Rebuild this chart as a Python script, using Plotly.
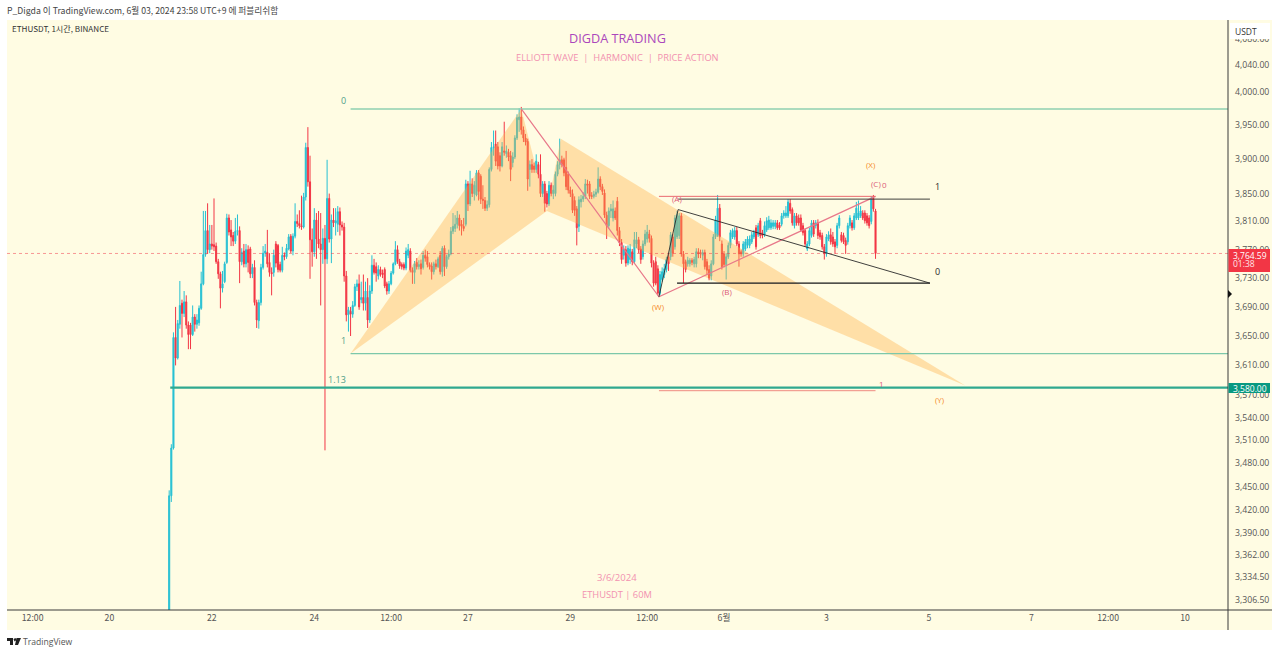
import math
import pandas as pd
import plotly.graph_objects as go

first_bar = "2024-05-21 04:00"
opens = [
3250,3438,3500,3648,3620,3666,3695,3681,3697,3665,
3665,3652,3676,3666,3668,3688,3722,3763,3797,3770,
3778,3777,3775,3753,3736,3716,3725,3752,3815,3798,
3790,3782,3796,3797,3753,3768,3750,3770,3771,3736,
3745,3696,3671,3696,3745,3765,3766,3752,3738,3738,
3778,3776,3749,3741,3762,3760,3771,3789,3768,3789,
3810,3807,3804,3802,3845,3917,3867,3784,3767,3812,
3785,3778,3770,3786,3757,3843,3785,3812,3808,3806,
3824,3805,3802,3733,3679,3684,3680,3692,3718,3722,
3700,3703,3695,3703,3672,3712,3748,3746,3733,3742,
3737,3742,3722,3712,3722,3737,3750,3770,3753,3749,
3749,3744,3762,3768,3741,3738,3752,3746,3750,3745,
3762,3760,3749,3747,3739,3750,3746,3762,3739,3772,
3746,3760,3764,3796,3800,3806,3815,3806,3803,3806,
3864,3835,3864,3850,3848,3880,3875,3842,3840,3829,
3834,3885,3917,3922,3918,3905,3890,3912,3908,3910,
3905,3895,3903,3931,3958,3962,3943,3931,3926,3885,
3892,3890,3885,3892,3878,3850,3864,3850,3835,3862,
3850,3850,3878,3892,3899,3899,3888,3878,3855,3850,
3840,3828,3803,3838,3842,3846,3864,3864,3847,3846,
3849,3852,3871,3860,3851,3819,3804,3825,3815,3825,
3839,3797,3780,3762,3770,3751,3756,3767,3753,3778,
3784,3771,3760,3778,3785,3792,3786,3751,3753,3743,
3709,3728,3735,3742,3760,3760,3788,3774,3788,3790,
3818,3764,3753,3750,3750,3755,3750,3750,3767,3766,
3762,3766,3753,3742,3733,3750,3788,3790,3829,3778,
3764,3749,3760,3776,3788,3788,3797,3778,3767,3764,
3771,3776,3776,3781,3788,3801,3791,3811,3794,3791,
3798,3801,3801,3803,3803,3808,3805,3806,3818,3818,
3818,3836,3827,3804,3818,3815,3815,3804,3797,3771,
3778,3790,3808,3804,3808,3794,3790,3774,3764,3785,
3791,3788,3781,3776,3804,3791,3790,3783,3781,3804,
3808,3801,3815,3815,3818,3822,3822,3818,3815,3810,
3843,3825]
highs = [
3445,3505,3655,3690,3672,3726,3700,3712,3706,3670,
3668,3692,3680,3680,3692,3739,3825,3825,3836,3805,
3805,3843,3780,3757,3739,3740,3753,3821,3820,3812,
3795,3815,3820,3803,3772,3778,3778,3776,3774,3750,
3755,3700,3700,3750,3775,3778,3798,3765,3745,3770,
3782,3778,3753,3774,3766,3778,3792,3792,3793,3836,
3820,3826,3847,3851,3924,3947,3905,3800,3829,3822,
3825,3822,3800,3805,3899,3850,3820,3829,3829,3832,
3830,3810,3808,3740,3690,3690,3698,3722,3728,3735,
3725,3735,3725,3730,3720,3762,3757,3752,3748,3746,
3742,3745,3725,3726,3740,3752,3782,3776,3757,3752,
3752,3773,3778,3772,3745,3754,3758,3755,3756,3768,
3770,3768,3752,3752,3753,3756,3760,3768,3775,3776,
3763,3770,3802,3822,3819,3825,3820,3812,3815,3870,
3868,3883,3872,3868,3884,3884,3878,3862,3845,3840,
3888,3925,3942,3942,3925,3910,3925,3955,3920,3915,
3912,3910,3935,3966,3975,3977,3948,3937,3930,3898,
3900,3895,3907,3896,3907,3868,3868,3854,3868,3866,
3862,3882,3897,3930,3905,3902,3912,3882,3860,3856,
3846,3832,3846,3848,3852,3871,3870,3868,3852,3854,
3857,3888,3875,3864,3856,3824,3830,3835,3840,3830,
3845,3802,3785,3776,3775,3776,3778,3771,3795,3795,
3788,3775,3783,3798,3805,3798,3790,3755,3760,3748,
3740,3745,3750,3760,3764,3795,3792,3819,3825,3822,
3822,3768,3756,3760,3758,3758,3760,3772,3772,3770,
3770,3770,3757,3748,3755,3792,3818,3848,3835,3783,
3768,3765,3780,3798,3800,3802,3802,3782,3770,3782,
3785,3789,3790,3795,3798,3805,3808,3815,3798,3810,
3816,3818,3813,3812,3812,3812,3809,3822,3826,3832,
3842,3842,3830,3822,3822,3820,3820,3808,3800,3782,
3801,3812,3812,3812,3813,3798,3794,3778,3792,3796,
3800,3795,3785,3808,3819,3795,3794,3787,3808,3819,
3812,3822,3838,3840,3832,3826,3826,3822,3819,3846,
3848,3828]
lows = [
3250,3430,3498,3610,3618,3660,3648,3676,3660,3632,
3632,3650,3656,3660,3664,3686,3720,3760,3764,3765,
3770,3768,3750,3729,3688,3710,3723,3750,3790,3775,
3775,3778,3790,3723,3748,3745,3745,3738,3730,3730,
3692,3661,3660,3692,3742,3760,3745,3732,3706,3732,
3745,3738,3738,3738,3755,3757,3769,3765,3762,3786,
3802,3800,3798,3800,3840,3860,3729,3746,3760,3757,
3772,3692,3750,3497,3750,3780,3751,3802,3790,3795,
3790,3797,3725,3670,3656,3650,3675,3690,3712,3686,
3695,3685,3685,3661,3668,3708,3735,3725,3728,3732,
3730,3716,3707,3708,3720,3735,3748,3750,3743,3742,
3741,3741,3758,3738,3722,3722,3742,3742,3735,3742,
3753,3745,3742,3728,3735,3742,3744,3735,3732,3733,
3743,3756,3762,3792,3795,3800,3797,3790,3796,3803,
3825,3832,3845,3840,3846,3840,3835,3828,3825,3825,
3830,3882,3905,3890,3885,3882,3888,3905,3902,3897,
3868,3888,3900,3928,3940,3936,3925,3920,3854,3860,
3880,3880,3880,3872,3845,3845,3824,3830,3832,3846,
3842,3846,3875,3885,3888,3875,3855,3850,3845,3822,
3818,3776,3795,3830,3838,3842,3850,3842,3842,3843,
3845,3850,3855,3848,3815,3785,3800,3815,3810,3812,
3790,3775,3750,3756,3746,3748,3750,3748,3750,3772,
3765,3750,3756,3775,3780,3780,3745,3718,3720,3706,
3706,3725,3730,3738,3740,3755,3760,3770,3785,3785,
3760,3723,3738,3746,3746,3748,3745,3745,3758,3758,
3755,3742,3735,3727,3727,3748,3785,3788,3782,3742,
3745,3728,3757,3772,3785,3784,3775,3746,3760,3760,
3768,3772,3772,3778,3785,3770,3788,3786,3786,3788,
3795,3798,3798,3799,3799,3798,3798,3803,3814,3815,
3815,3821,3804,3800,3804,3804,3795,3790,3774,3768,
3775,3787,3788,3800,3785,3784,3770,3756,3760,3782,
3777,3774,3764,3772,3800,3780,3778,3764,3777,3800,
3797,3798,3812,3812,3815,3812,3807,3804,3800,3806,
3824,3757]
closes = [
3438,3500,3648,3620,3667,3692,3681,3697,3665,3652,
3652,3676,3666,3672,3688,3722,3763,3797,3770,3778,
3775,3774,3753,3736,3716,3722,3750,3815,3795,3788,
3782,3796,3797,3753,3766,3750,3770,3752,3736,3745,
3696,3672,3696,3745,3765,3768,3750,3738,3736,3762,
3751,3742,3741,3762,3760,3772,3788,3768,3789,3810,
3807,3804,3802,3845,3917,3867,3784,3767,3812,3785,
3778,3770,3786,3757,3843,3785,3812,3808,3811,3824,
3805,3802,3733,3679,3686,3680,3692,3718,3722,3690,
3703,3695,3712,3672,3712,3748,3738,3737,3742,3735,
3735,3719,3712,3722,3737,3750,3770,3753,3747,3746,
3744,3768,3770,3741,3738,3750,3746,3749,3743,3762,
3758,3749,3746,3739,3750,3746,3757,3739,3772,3746,
3760,3764,3796,3803,3806,3815,3804,3803,3800,3864,
3835,3864,3850,3862,3880,3853,3842,3840,3829,3834,
3885,3917,3918,3897,3890,3890,3918,3910,3912,3903,
3885,3903,3931,3961,3962,3943,3931,3925,3871,3892,
3885,3885,3897,3878,3850,3864,3836,3835,3862,3850,
3855,3878,3892,3899,3892,3880,3860,3855,3850,3826,
3826,3801,3841,3842,3846,3864,3862,3846,3846,3849,
3852,3871,3860,3853,3819,3804,3825,3828,3828,3815,
3797,3780,3756,3771,3751,3772,3771,3753,3784,3784,
3770,3756,3778,3792,3795,3786,3751,3723,3723,3709,
3735,3739,3743,3756,3750,3791,3765,3815,3820,3818,
3764,3750,3742,3755,3755,3752,3756,3767,3764,3764,
3766,3746,3741,3730,3750,3788,3812,3829,3788,3746,
3749,3760,3776,3794,3797,3797,3778,3764,3764,3778,
3781,3785,3785,3791,3794,3774,3804,3790,3790,3804,
3811,3812,3808,3808,3808,3801,3801,3818,3822,3822,
3838,3825,3808,3818,3808,3808,3798,3794,3778,3778,
3797,3808,3792,3808,3790,3788,3774,3764,3788,3791,
3781,3778,3774,3804,3815,3783,3781,3776,3804,3815,
3801,3818,3829,3822,3825,3815,3811,3808,3804,3843,
3828,3764.59]

x_range = ["2024-05-18 00:00", "2024-06-10 20:10"]
y_range = [3294, 4108.6]
x_tick_dates = ["2024-05-18 12:00","2024-05-20","2024-05-22","2024-05-24","2024-05-25 12:00",
                "2024-05-27","2024-05-29","2024-05-30 12:00","2024-06-01","2024-06-03",
                "2024-06-05","2024-06-07","2024-06-08 12:00","2024-06-10"]
x_tick_text = ["12:00","20","22","24","12:00","27","29","12:00","6월","3","5","7","12:00","10"]
y_ticks = [4080,4040,4000,3950,3900,3850,3810,3770,3730,3690,3650,3610,3570,3540,3510,
           3480,3450,3420,3390,3362,3334.5,3306.5]

last_price = 3764.59
support_price = 3580

# harmonic pattern X A B C D
pat_dates = ["2024-05-24 17:00","2024-05-28 01:00","2024-05-28 13:00","2024-05-28 19:30","2024-06-05 17:00"]
pat_prices = [3626,3974,3825,3930,3583]
# fib levels
fib_top = 3974
fib_bottom = 3626
fib_start = "2024-05-24 17:00"
# wave lines
w_date = "2024-05-30 17:30"; w_price = 3704
a2_date = "2024-05-31 02:30"; a2_price = 3827
c_date = "2024-06-03 23:00"; c_price = 3846
end_date = "2024-06-05 00:30"
tri_low = 3723; tri_top = 3842
low_ref = 3576

label_text = ["(W)","(X)","(Y)","(A)","(B)","(C)","0","1","1","0","0","1","1.13"]
label_dates = ["2024-05-30 17:30","2024-06-03 21:00","2024-06-05 05:00","2024-05-31 02:00","2024-06-01 01:30",
               "2024-06-03 23:00","2024-06-04 03:00","2024-06-04 02:00","2024-06-05 04:00","2024-06-05 04:00",
               "2024-05-24 13:30","2024-05-24 13:30","2024-05-24 10:30"]
label_prices = [3691,3892,3564,3843,3711,3865,3863,3586,3860,3739,3987,3644,3591]
ORANGE="#f58a1f"; ROSE="#dc5a78"; BLACK="#2a2a2a"; FIB="#4f9e88"
label_colors = [ORANGE,ORANGE,ORANGE,ROSE,ROSE,ROSE,ROSE,ROSE,BLACK,BLACK,FIB,FIB,FIB]
label_sizes = [8,8,8,8,8,8,8,8,9,9,9,9,9]

FONT = "Open Sans, Noto Sans CJK KR, sans-serif"
KFONT = "Noto Sans CJK KR, Open Sans, sans-serif"
BG = "#fffce3"
X0, W, Y0, H = 7, 1221, 20, 590
def fx(p): return (p - X0) / W
def fy(p): return 1 - (p - Y0) / H

bars = pd.date_range(first_bar, periods=len(closes), freq="h")
assert len(opens) == len(highs) == len(lows) == len(closes)

fig = go.Figure()
fig.add_trace(go.Candlestick(
    x=bars, open=opens, high=highs, low=lows, close=closes, showlegend=False,
    whiskerwidth=0,
    increasing=dict(line=dict(color="#26c0d3", width=1), fillcolor="#26c0d3"),
    decreasing=dict(line=dict(color="#f23645", width=1), fillcolor="#f23645"),
))

FILL = "rgba(255,176,72,0.38)"
fig.add_trace(go.Scatter(x=pat_dates[:3]+pat_dates[:1], y=pat_prices[:3]+pat_prices[:1], mode="lines",
                         fill="toself", fillcolor=FILL, line=dict(width=0), showlegend=False))
fig.add_trace(go.Scatter(x=pat_dates[2:]+pat_dates[2:3], y=pat_prices[2:]+pat_prices[2:3], mode="lines",
                         fill="toself", fillcolor=FILL, line=dict(width=0), showlegend=False))

def seg(xs, ys, color, width=1.2, dash=None):
    fig.add_trace(go.Scatter(x=xs, y=ys, mode="lines", showlegend=False,
                             line=dict(color=color, width=width, dash=dash)))

seg(x_range, [last_price, last_price], "rgba(242,54,69,0.5)", 1, "dot")
seg([fib_start, x_range[1]], [fib_top, fib_top], "#8fd0b0", 1.6)
seg([fib_start, x_range[1]], [fib_bottom, fib_bottom], "#7cc8aa", 1.2)
seg(["2024-05-21 04:30", x_range[1]], [support_price, support_price], "#2fa88f", 2.2)
seg([pat_dates[1], w_date, c_date], [pat_prices[1], w_price, c_price], "#e8788a", 1.2)
seg([w_date, c_date], [c_price, c_price], "#ea6a70", 1)
seg([w_date, c_date], [low_ref, low_ref], "#ef8a80", 1)
seg([w_date, a2_date, end_date, "2024-05-31 02:00", end_date],
    [w_price, a2_price, tri_low, tri_low, tri_low], BLACK, 0.9)
seg([a2_date, end_date], [tri_top, tri_top], BLACK, 0.9)

annotations = []
for t, d, p, c, s in zip(label_text, label_dates, label_prices, label_colors, label_sizes):
    annotations.append(dict(x=d, y=math.log10(p), xref="x", yref="y", text=t, showarrow=False,
                            xanchor="center", yanchor="middle",
                            font=dict(family=FONT, size=s, color=c)))

def chrome(text, px, py, size, color, anchor="left", family=FONT):
    annotations.append(dict(x=fx(px), y=fy(py), xref="paper", yref="paper", text=text, showarrow=False,
                            xanchor=anchor, yanchor="middle", font=dict(family=family, size=size, color=color)))

chrome("P_Digda 이 TradingView.com, 6월 03, 2024 23:58 UTC+9 에 퍼블리쉬함", 5, 10, 8.7, "#444444", family=KFONT)
chrome("ETHUSDT, 1시간, BINANCE", 10, 29, 8.1, "#333333", family=KFONT)
chrome("DIGDA TRADING", 617, 38, 12.7, "#ab47bc", "center")
chrome("ELLIOTT WAVE  |  HARMONIC  |  PRICE ACTION", 617, 57, 9.3, "#f291b0", "center")
chrome("3/6/2024", 617, 577, 9.5, "#f291b0", "center")
chrome("ETHUSDT | 60M", 617, 594, 9.3, "#f291b0", "center")
chrome("TradingView", 21, 642, 8.6, "#555555")
chrome("USDT", 1233, 31, 8.5, "#333333")
chrome("3,764.59", 1231, 255, 8.5, "#ffffff")
chrome("01:38", 1231, 264, 8.5, "#ffe3e6")
chrome("3,580.00", 1231, 388, 8.5, "#ffffff")

def rect(x0, y0, x1, y1, fill, layer="above", line=None):
    return dict(type="rect", xref="paper", yref="paper", x0=fx(x0), x1=fx(x1), y0=fy(y0), y1=fy(y1),
                fillcolor=fill, line=dict(width=1 if line else 0, color=line or fill), layer=layer)
def hv(x0, y0, x1, y1, color="#3a3a3a"):
    return dict(type="line", xref="paper", yref="paper", x0=fx(x0), x1=fx(x1), y0=fy(y0), y1=fy(y1),
                line=dict(color=color, width=1), layer="above")
def poly(points, fill):
    path = "M " + " L ".join(f"{fx(a):.5f},{fy(b):.5f}" for a, b in points) + " Z"
    return dict(type="path", xref="paper", yref="paper", path=path, fillcolor=fill, line=dict(width=0), layer="above")

shapes = [
    rect(7, 20, 1272, 630, BG, layer="below"),
    hv(1228, 20, 1228, 630),
    hv(7, 610, 1272, 610),
    rect(1230, 23, 1270, 39, "#ffffff"),
    rect(1228.5, 249, 1270, 272, "#f23645"),
    rect(1228.5, 383, 1270, 393, "#089981"),
    poly([(1228, 290), (1232, 294), (1228, 298)], "#111111"),
    poly([(7, 638), (13, 638), (13, 645), (10, 645), (10, 641), (7, 641)], "#222222"),
    poly([(13.5, 639), (15.5, 638), (16.5, 640), (14.5, 641.5)], "#222222"),
    poly([(16.5, 638), (21, 638), (18, 645), (15, 645)], "#222222"),
]

fig.update_layout(
    width=1280, height=654, autosize=False,
    margin=dict(l=X0, r=1280 - X0 - W, t=Y0, b=654 - Y0 - H, pad=0),
    paper_bgcolor="#ffffff", plot_bgcolor=BG,
    showlegend=False, hovermode=False,
    shapes=shapes, annotations=annotations,
    font=dict(family=FONT),
    xaxis=dict(range=x_range, type="date", rangeslider=dict(visible=False), showgrid=False, zeroline=False,
               tickmode="array", tickvals=x_tick_dates, ticktext=x_tick_text, ticks="", showline=False,
               ticklabelstandoff=1,
               tickfont=dict(family=KFONT, size=8.7, color="#555555"), tickangle=0),
    yaxis=dict(type="log", side="right", range=[math.log10(v) for v in y_range],
               showgrid=False, zeroline=False, showline=False, ticks="",
               tickmode="array", tickvals=y_ticks, ticklabelstandoff=6,
               ticktext=[f"{v:,.2f}" for v in y_ticks],
               tickfont=dict(family=FONT, size=8.7, color="#555555")),
)

fig.write_html("out.html", config=dict(displayModeBar=False),
               post_script="document.body.style.margin='0';document.documentElement.style.overflow='hidden';")
